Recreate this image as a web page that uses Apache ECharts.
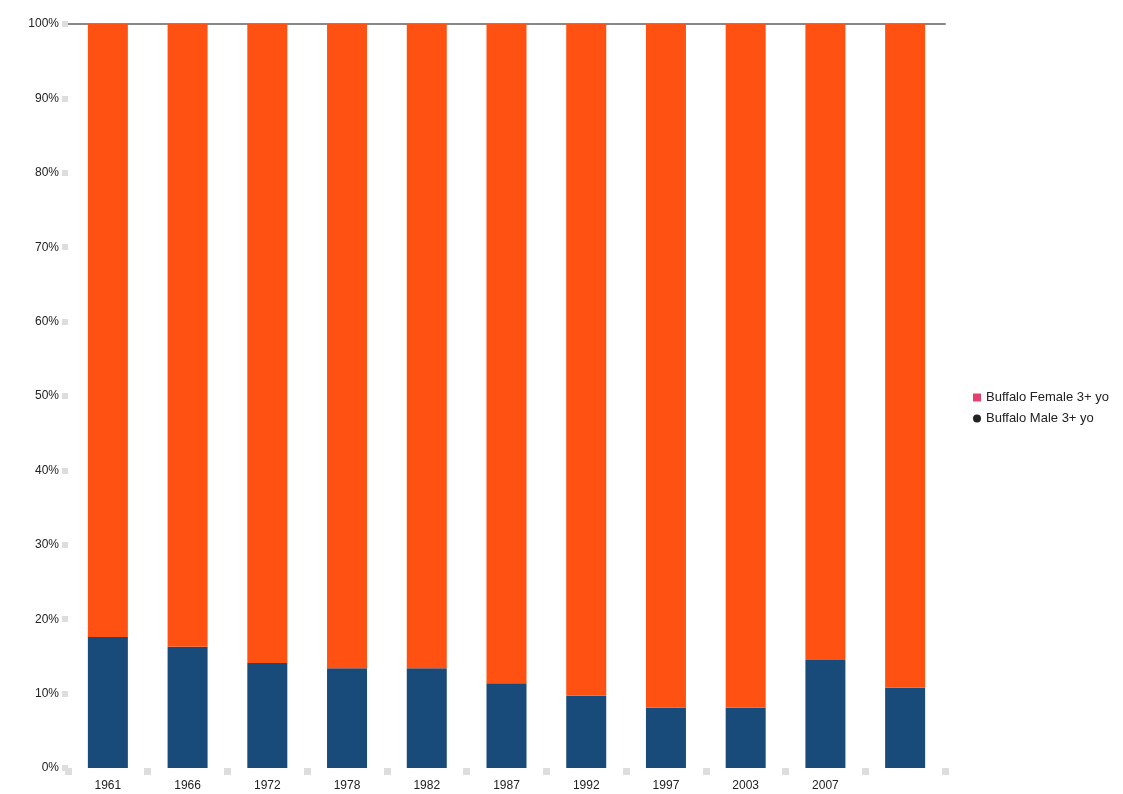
<!DOCTYPE html>
<html>
<head>
<meta charset="utf-8">
<title>Buffalo 3+ yo</title>
<script src="https://cdn.jsdelivr.net/npm/echarts@6/dist/echarts.min.js"></script>
<style>
  html, body { margin: 0; padding: 0; background: #fff; }
  #chart { width: 1123px; height: 794px; }
</style>
</head>
<body>
<div id="chart"></div>
<script>
const years = ['1961', '1966', '1972', '1978', '1982', '1987', '1992', '1997', '2003', '2007', ''];
// share of each group, in percent
const maleShare = [17.6, 16.3, 14.1, 13.4, 13.4, 11.4, 9.7, 8.1, 8.1, 14.5, 10.8];
const femaleShare = [82.4, 83.7, 85.9, 86.6, 86.6, 88.6, 90.3, 91.9, 91.9, 85.5, 89.2];
const seriesNames = ['Buffalo Female 3+ yo', 'Buffalo Male 3+ yo'];

const myChart = echarts.init(document.getElementById('chart'));

const option = {
    animation: false,
    textStyle: { fontFamily: 'Liberation Sans, Arial, sans-serif' },
    grid: { left: 68, right: 178, top: 24, bottom: 26 },
    legend: {
        orient: 'vertical',
        left: 968,
        top: 386,
        itemWidth: 8,
        itemHeight: 8,
        itemGap: 8,
        textStyle: { fontSize: 13, color: '#222' },
        data: [
            { name: seriesNames[0], icon: 'rect', itemStyle: { color: '#e8406e' } },
            { name: seriesNames[1], icon: 'circle', itemStyle: { color: '#222' } }
        ]
    },
    xAxis: [{
        type: 'category',
        data: years,
        axisLine: { show: false },
        axisTick: { show: true, length: 7, lineStyle: { color: '#ddd', width: 7 } },
        axisLabel: { color: '#222', fontSize: 12, margin: 12 }
    }, {
        type: 'category',
        data: years,
        position: 'top',
        axisLine: { show: true, lineStyle: { color: '#888', width: 2 } },
        axisTick: { show: false },
        axisLabel: { show: false }
    }],
    yAxis: {
        type: 'value',
        min: 0,
        max: 100,
        interval: 10,
        axisLine: { show: false },
        axisTick: { show: true, length: 6, lineStyle: { color: '#ddd', width: 6 } },
        splitLine: { show: false },
        axisLabel: { color: '#222', fontSize: 12, margin: 9, formatter: '{value}%' }
    },
    series: [{
        name: seriesNames[1],
        type: 'bar',
        stack: 'total',
        barWidth: 40,
        data: maleShare,
        itemStyle: { color: '#184a7a' }
    }, {
        name: seriesNames[0],
        type: 'bar',
        stack: 'total',
        barWidth: 40,
        data: femaleShare,
        itemStyle: { color: '#ff5212' }
    }]
};

myChart.setOption(option);

window.addEventListener('resize', () => {
    myChart.resize();
});
</script>
</body>
</html>
